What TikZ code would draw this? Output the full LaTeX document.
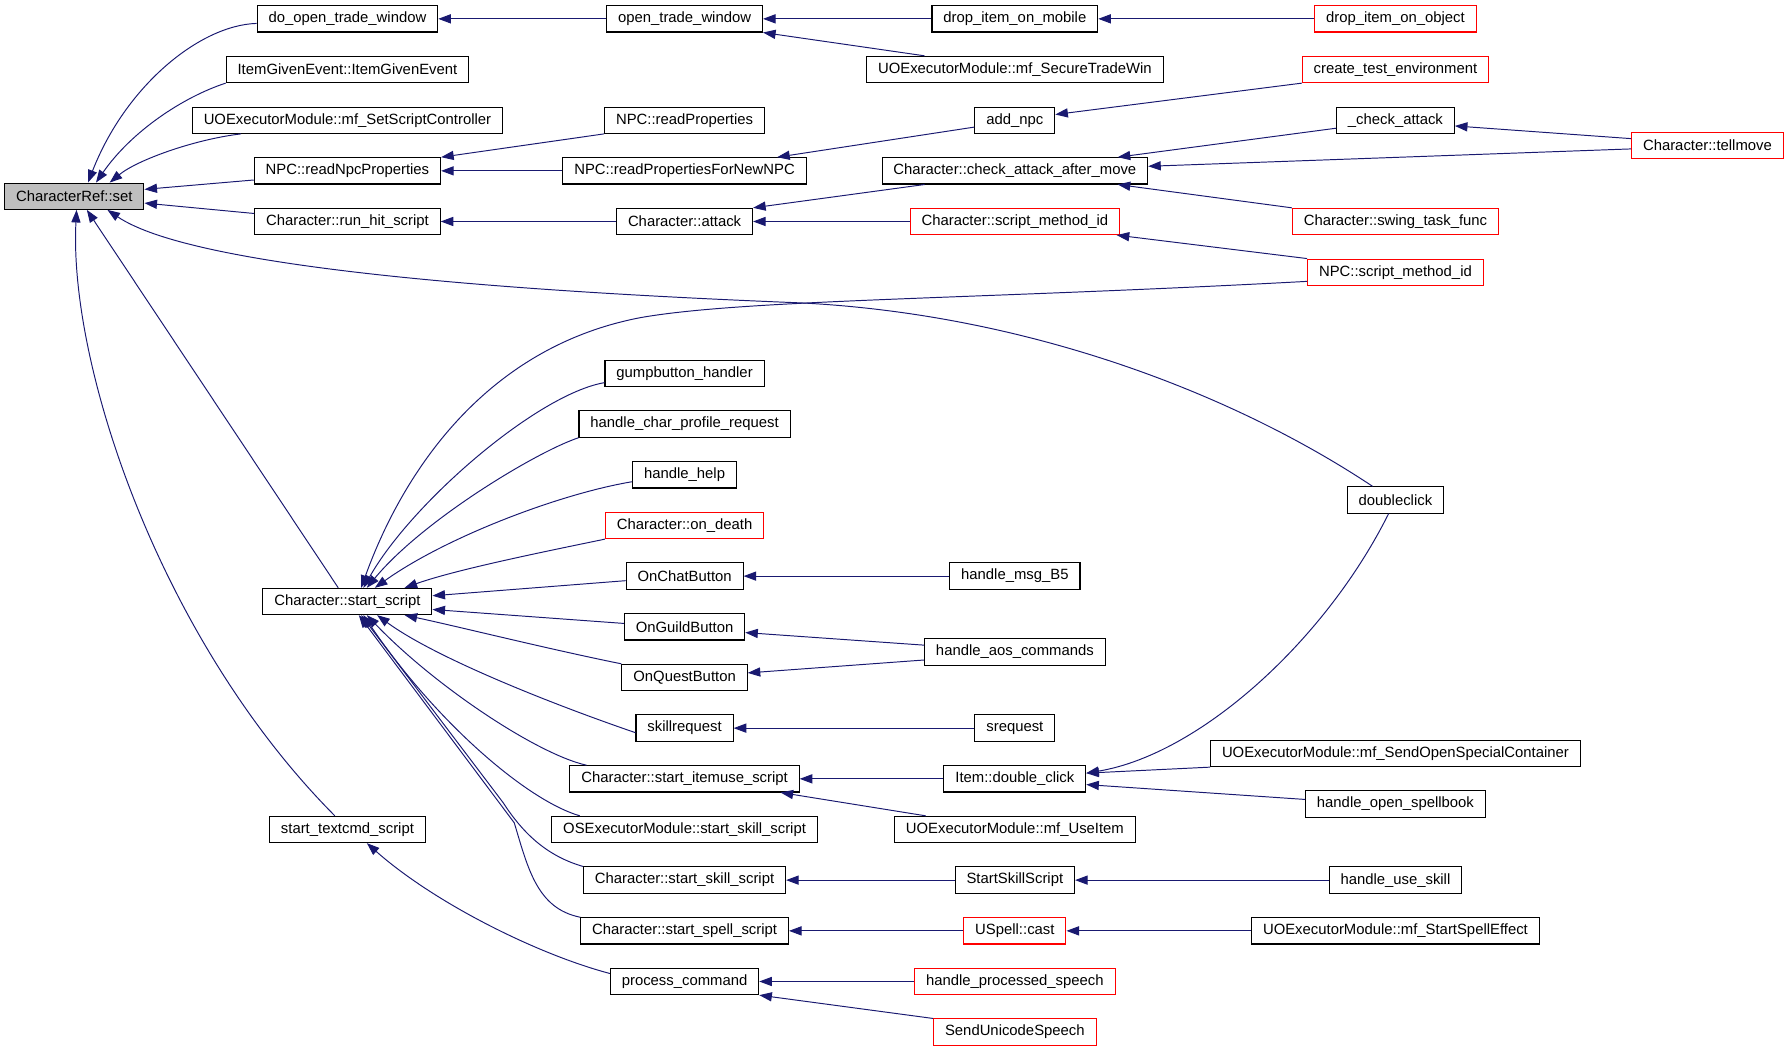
\documentclass[tikz,border=0pt]{standalone}
\usepackage{fontspec}
\setmainfont{Liberation Sans}
\usetikzlibrary{arrows.meta}
\definecolor{edgeblue}{RGB}{25,25,112}

\begin{document}
\begin{tikzpicture}[x=1pt,y=-1pt,
  fn/.style={draw=black, fill=white, line width=0.9pt, inner xsep=10pt, inner ysep=0pt,
    minimum height=23pt, font=\fontsize{13}{15}\selectfont},
  ext/.style={fn, draw=red},
  root/.style={fn, fill=black!25},
  call/.style={draw=edgeblue, line width=0.85pt, -{Triangle[length=11pt,width=8pt]}}]
\useasboundingbox (0,0) rectangle (1568,920);

% Root
\node[root] (set) at (65,171.7) {CharacterRef::set};

% Column 1
\node[fn] (doopen) at (304,16.5) {do\_open\_trade\_window};
\node[fn] (itemgiven) at (304,60.8) {ItemGivenEvent::ItemGivenEvent};
\node[fn] (setctl) at (304,105.2) {UOExecutorModule::mf\_SetScriptController};
\node[fn] (readnpc) at (304,149.5) {NPC::readNpcProperties};
\node[fn] (runhit) at (304,193.8) {Character::run\_hit\_script};
\node[fn] (startscript) at (304,526.3) {Character::start\_script};
\node[fn] (textcmd) at (304,725.8) {start\_textcmd\_script};

% Column 2
\node[fn] (opentrade) at (599,16.5) {open\_trade\_window};
\node[fn] (readprops) at (599,105.2) {NPC::readProperties};
\node[fn] (readpropsnew) at (599,149.5) {NPC::readPropertiesForNewNPC};
\node[fn] (attack) at (599,193.8) {Character::attack};
\node[fn] (gump) at (599,326.8) {gumpbutton\_handler};
\node[fn] (profile) at (599,371.1) {handle\_char\_profile\_request};
\node[fn] (help) at (599,415.5) {handle\_help};
\node[ext] (ondeath) at (599,459.8) {Character::on\_death};
\node[fn] (onchat) at (599,504.1) {OnChatButton};
\node[fn] (onguild) at (599,548.5) {OnGuildButton};
\node[fn] (onquest) at (599,592.8) {OnQuestButton};
\node[fn] (skillreq) at (599,637.1) {skillrequest};
\node[fn] (itemuse) at (599,681.5) {Character::start\_itemuse\_script};
\node[fn] (osskill) at (599,725.8) {OSExecutorModule::start\_skill\_script};
\node[fn] (charskill) at (599,770.1) {Character::start\_skill\_script};
\node[fn] (spell) at (599,814.5) {Character::start\_spell\_script};
\node[fn] (proccmd) at (599,858.8) {process\_command};

% Column 3
\node[fn] (dropmobile) at (888,16.5) {drop\_item\_on\_mobile};
\node[fn] (securetrade) at (888,60.8) {UOExecutorModule::mf\_SecureTradeWin};
\node[fn] (addnpc) at (888,105.2) {add\_npc};
\node[fn] (checkafter) at (888,149.5) {Character::check\_attack\_after\_move};
\node[ext] (charscriptid) at (888,193.8) {Character::script\_method\_id};
\node[fn] (msgb5) at (888,504.1) {handle\_msg\_B5};
\node[fn] (aoscmd) at (888,570.5) {handle\_aos\_commands};
\node[fn] (srequest) at (888,637.1) {srequest};
\node[fn] (itemdbl) at (888,681.5) {Item::double\_click};
\node[fn] (useitem) at (888,725.8) {UOExecutorModule::mf\_UseItem};
\node[fn] (startskill) at (888,770.1) {StartSkillScript};
\node[ext] (uspellcast) at (888,814.5) {USpell::cast};
\node[ext] (procspeech) at (888,858.8) {handle\_processed\_speech};
\node[ext] (unispeech) at (888,903.1) {SendUnicodeSpeech};

% Column 4
\node[ext] (dropobject) at (1221,16.5) {drop\_item\_on\_object};
\node[ext] (createtest) at (1221,60.8) {create\_test\_environment};
\node[fn] (checkattack) at (1221,105.2) {\_check\_attack};
\node[ext] (swingtask) at (1221,193.8) {Character::swing\_task\_func};
\node[ext] (npcscriptid) at (1221,238.2) {NPC::script\_method\_id};
\node[fn] (doubleclick) at (1221,437.5) {doubleclick};
\node[fn] (sendopen) at (1221,659.3) {UOExecutorModule::mf\_SendOpenSpecialContainer};
\node[fn] (spellbook) at (1221,703.5) {handle\_open\_spellbook};
\node[fn] (useskill) at (1221,770.1) {handle\_use\_skill};
\node[fn] (spelleffect) at (1221,814.5) {UOExecutorModule::mf\_StartSpellEffect};

% Column 5
\node[ext] (tellmove) at (1494,127.3) {Character::tellmove};

% Calls into CharacterRef::set
\draw[call] ([yshift=-4pt]doopen.west) .. controls (175,22) and (110,75) .. ([xshift=12pt]set.north);
\draw[call] (itemgiven.south west) .. controls (160,85) and (115,115) .. ([xshift=19pt]set.north);
\draw[call] ([xshift=43pt]setctl.south west) .. controls (170,122) and (120,140) .. ([xshift=31pt]set.north);
\draw[call] ([yshift=-8pt]readnpc.west) -- ([yshift=6pt]set.east);
\draw[call] ([yshift=7pt]runhit.west) -- ([yshift=-6pt]set.east);
\draw[call] ([xshift=-20pt]doubleclick.north) .. controls (1080,345) and (900,275) .. (700,265)
  .. controls (450,255) and (170,235) .. ([xshift=29pt]set.south);
\draw[call] ([xshift=-8pt]startscript.north) -- ([xshift=11pt]set.south);
\draw[call] ([xshift=-11pt]textcmd.north) .. controls (140,560) and (60,320) .. ([xshift=2pt]set.south);

% Upper rows
\draw[call] (opentrade) -- (doopen);
\draw[call] (dropmobile) -- (opentrade);
\draw[call] ([xshift=-79pt]securetrade.north) -- (opentrade.south east);
\draw[call] (dropobject) -- (dropmobile);
\draw[call] (readprops.south west) -- (readnpc.north east);
\draw[call] (readpropsnew) -- (readnpc);
\draw[call] ([yshift=-6pt]addnpc.west) -- ([xshift=81pt]readpropsnew.north);
\draw[call] (createtest.south west) -- ([yshift=5pt]addnpc.east);
\draw[call] ([yshift=-7pt]checkattack.west) -- ([xshift=90pt]checkafter.north);
\draw[call] ([yshift=6pt]tellmove.west) -- ([yshift=-5pt]checkattack.east);
\draw[call] ([yshift=-3pt]tellmove.west) -- ([yshift=4pt]checkafter.east);
\draw[call] (swingtask.north west) -- ([xshift=90pt]checkafter.south);
\draw[call] ([xshift=-79pt]checkafter.south) -- (attack.north east);
\draw[call] (charscriptid) -- (attack);
\draw[call] (attack) -- (runhit);
\draw[call] (npcscriptid.north west) -- ([xshift=-3pt]charscriptid.south east);

% Calls into Character::start_script
\draw[call] ([yshift=-8pt]npcscriptid.west) .. controls (850,262) and (650,262) .. (560,278)
  .. controls (420,305) and (350,420) .. ([xshift=12pt]startscript.north);
\draw[call] ([yshift=-8pt]gump.west) .. controls (470,345) and (360,440) .. ([xshift=14pt]startscript.north);
\draw[call] (profile.south west) .. controls (470,395) and (370,455) .. ([xshift=17pt]startscript.north);
\draw[call] ([yshift=-6pt]help.west) .. controls (490,432) and (390,470) .. ([xshift=24pt]startscript.north);
\draw[call] (ondeath.south west) .. controls (480,482) and (400,498) .. ([xshift=50pt]startscript.north);
\draw[call] ([yshift=-4pt]onchat.west) -- ([yshift=5pt]startscript.east);
\draw[call] ([yshift=3pt]onguild.west) -- ([yshift=-7pt]startscript.east);
\draw[call] (onquest.north west) .. controls (480,568) and (400,548) .. ([xshift=50pt]startscript.south);
\draw[call] ([yshift=-4pt]skillreq.west) .. controls (480,615) and (380,575) .. ([xshift=26pt]startscript.south);
\draw[call] ([xshift=15pt]itemuse.north west) .. controls (470,660) and (380,600) .. ([xshift=17pt]startscript.south);
\draw[call] ([xshift=25pt]osskill.north west) .. controls (460,700) and (380,630) .. ([xshift=14pt]startscript.south);
\draw[call] (charskill.north west) .. controls (475,748) and (455,725) .. (440,702) -- ([xshift=12pt]startscript.south);
\draw[call] (spell.north west) .. controls (470,795) and (462,760) .. (450,720) -- ([xshift=10pt]startscript.south);

% Lower rows
\draw[call] (msgb5) -- (onchat);
\draw[call] ([yshift=6pt]aoscmd.west) -- ([yshift=-5pt]onguild.east);
\draw[call] ([yshift=-7pt]aoscmd.west) -- ([yshift=4pt]onquest.east);
\draw[call] (srequest) -- (skillreq);
\draw[call] (itemdbl) -- (itemuse);
\draw[call] ([xshift=-78pt]useitem.north) -- ([xshift=84pt]itemuse.south);
\draw[call] ([xshift=-6pt]doubleclick.south) .. controls (1160,560) and (1050,660) .. ([yshift=5pt]itemdbl.east);
\draw[call] (sendopen.south west) -- ([yshift=5pt]itemdbl.east);
\draw[call] ([yshift=4pt]spellbook.west) -- ([yshift=-5pt]itemdbl.east);
\draw[call] (startskill) -- (charskill);
\draw[call] (useskill) -- (startskill);
\draw[call] (uspellcast) -- (spell);
\draw[call] (spelleffect) -- (uspellcast);
\draw[call] ([yshift=7pt]proccmd.west) .. controls (470,835) and (380,790) .. ([xshift=17pt]textcmd.south);
\draw[call] (procspeech) -- (proccmd);
\draw[call] (unispeech.north west) -- (proccmd.south east);

\end{tikzpicture}
\end{document}
